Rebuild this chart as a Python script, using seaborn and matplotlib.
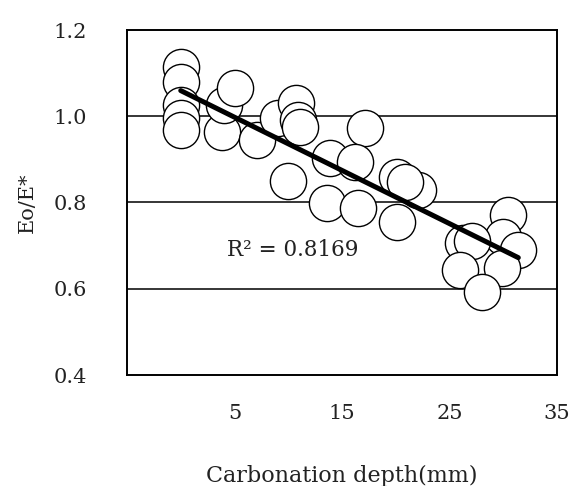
import numpy as np
import pandas as pd
import matplotlib
matplotlib.use("Agg")
import matplotlib.pyplot as plt
import seaborn as sns

# data
depth = [0.0, 0.0, 0.0, 0.0, 0.0, 3.8, 4.0, 5.0, 7.1, 9.0, 10.7, 10.9, 11.1, 10.0,
         17.1, 13.9, 16.2, 13.6, 16.5, 20.1, 22.1, 20.1, 20.9,
         30.4, 30.0, 31.4, 26.3, 27.1, 26.0, 29.9, 28.0]
ratio = [1.115, 1.079, 1.026, 0.996, 0.968, 0.963, 1.026, 1.065, 0.945, 0.996, 1.031, 0.991, 0.975, 0.850,
         0.973, 0.903, 0.894, 0.799, 0.787, 0.859, 0.829, 0.755, 0.848,
         0.771, 0.720, 0.690, 0.706, 0.711, 0.643, 0.648, 0.592]
x_ticks = [5, 15, 25, 35]
y_ticks = [0.4, 0.6, 0.8, 1.0, 1.2]
r2_label = "R\u00b2 = 0.8169"

df = pd.DataFrame({"depth": depth, "ratio": ratio})

sns.set_style("white")
plt.rcParams["font.family"] = ["DejaVu Serif", "Liberation Serif"]
txt = "#222222"

fig = plt.figure(figsize=(5.69, 4.86), dpi=100)
ax = fig.add_axes([127/569, 1 - 375/486, (557 - 127)/569, (375 - 30)/486])

for y in y_ticks[1:-1]:
    ax.axhline(y, color="black", lw=1.1, zorder=0)

sns.scatterplot(data=df, x="depth", y="ratio", ax=ax, s=680, marker="o",
                facecolor="white", edgecolor="black", linewidth=1.0, zorder=2)
sns.regplot(data=df, x="depth", y="ratio", ax=ax, scatter=False, ci=None,
            truncate=True, line_kws=dict(color="black", lw=3.6, zorder=3))

ax.text(4.3, 0.69, r2_label, fontsize=15.5, va="center", ha="left", color=txt, zorder=4)

ax.set_xlim(-5, 35)
ax.set_ylim(0.4, 1.2)
ax.set_xticks(x_ticks)
ax.set_yticks(y_ticks)
ax.set_yticklabels([f"{v:.1f}" for v in y_ticks])
ax.tick_params(axis="both", direction="in", length=6, width=1.1, labelsize=15,
               color="black", labelcolor=txt)
ax.tick_params(axis="y", pad=29)
ax.tick_params(axis="x", pad=21)
ax.set_xlabel("Carbonation depth(mm)", fontsize=16, labelpad=30, color=txt)
ax.set_ylabel("Eo/E*", fontsize=15, labelpad=12, color=txt)
for sp in ax.spines.values():
    sp.set_visible(True)
    sp.set_color("black")
    sp.set_linewidth(1.4)

fig.savefig("out.png", dpi=100)
